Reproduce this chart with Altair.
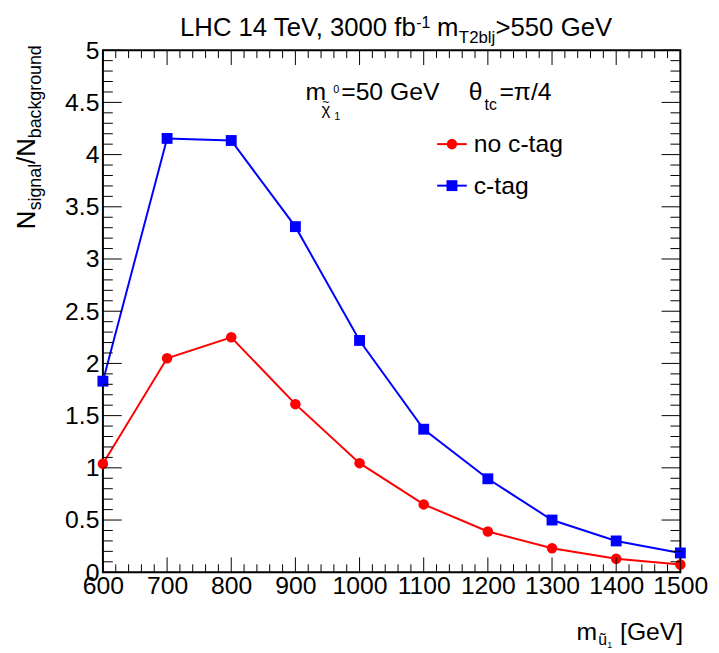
import altair as alt
import pandas as pd

# ---- data ----
mass = [600, 700, 800, 900, 1000, 1100, 1200, 1300, 1400, 1500]
no_ctag = [1.04, 2.05, 2.25, 1.61, 1.045, 0.65, 0.39, 0.23, 0.13, 0.075]
ctag = [1.83, 4.155, 4.135, 3.31, 2.22, 1.37, 0.895, 0.50, 0.30, 0.185]
series_names = ["no c-tag", "c-tag"]
series_colors = ["#ff0000", "#0000ff"]
series_shapes = ["circle", "square"]

x_major = list(range(600, 1501, 100))
x_minor = [v for v in range(600, 1501, 20) if v % 100]
y_major = [i * 0.5 for i in range(11)]
y_minor = [round(i * 0.1, 1) for i in range(51) if i % 5]

FONT = "Liberation Sans"
W, H = 584, 528
OX, OY = 104, 47  # page position of plot origin

df = pd.DataFrame({
    "m": mass * 2,
    "r": no_ctag + ctag,
    "s": [series_names[0]] * len(mass) + [series_names[1]] * len(mass),
})

xs = alt.Scale(domain=[600, 1500], nice=False, zero=False)
ys = alt.Scale(domain=[0, 5], nice=False, zero=False)
cs = alt.Scale(domain=series_names, range=series_colors)
ss = alt.Scale(domain=series_names, range=series_shapes)

axX = alt.Axis(values=x_major, format="d", title=None, ticks=False, domain=False, grid=False,
               labelFont=FONT, labelFontSize=25, labelColor="black", labelPadding=2,
               labelOverlap=False, labelFlush=False)
axY = alt.Axis(values=y_major, format="~g", title=None, ticks=False, domain=False, grid=False,
               labelFont=FONT, labelFontSize=25, labelColor="black", labelPadding=4,
               labelOverlap=False, labelFlush=False, labelBaseline="middle")


def X(f):
    return alt.X(f, scale=xs, axis=axX)


def Y(f):
    return alt.Y(f, scale=ys, axis=axY)


base = alt.Chart(df)
lines = base.mark_line(strokeWidth=2).encode(
    x=X("m:Q"), y=Y("r:Q"),
    color=alt.Color("s:N", scale=cs, legend=None),
    detail="s:N",
)
points = base.mark_point(filled=True, opacity=1).encode(
    x=X("m:Q"), y=Y("r:Q"),
    color=alt.Color("s:N", scale=cs, legend=None),
    shape=alt.Shape("s:N", scale=ss, legend=None),
    size=alt.condition("datum.s == 'no c-tag'", alt.value(113), alt.value(121)),
)


def xticks(vals, length):
    d = alt.Chart(pd.DataFrame({"m": vals}))
    bottom = d.mark_rule(color="black", strokeWidth=1).encode(
        x=X("m:Q"), y=alt.value(H), y2=alt.value(H - length))
    top = d.mark_rule(color="black", strokeWidth=1).encode(
        x=X("m:Q"), y=alt.value(0), y2=alt.value(length))
    return [bottom, top]


def yticks(vals, length):
    d = alt.Chart(pd.DataFrame({"r": vals}))
    left = d.mark_rule(color="black", strokeWidth=1).encode(
        y=Y("r:Q"), x=alt.value(0), x2=alt.value(length))
    right = d.mark_rule(color="black", strokeWidth=1).encode(
        y=Y("r:Q"), x=alt.value(W), x2=alt.value(W - length))
    return [left, right]


one = pd.DataFrame({"a": [0]})


def txt(s, x, y, size, angle=0, align="left", baseline="alphabetic"):
    return alt.Chart(one).mark_text(
        text=s, font=FONT, fontSize=size, color="black", align=align,
        baseline=baseline, angle=angle).encode(x=alt.value(x - OX), y=alt.value(y - OY))


texts = [
    # title
    txt("LHC 14 TeV, 3000 fb", 182, 33, 26),
    txt("-1", 421, 25, 16),
    txt("m", 442, 33, 26),
    txt("T2blj", 464, 40, 17),
    txt(">550", 501, 33, 26),
    txt("GeV", 567, 33, 26),
    # annotation
    txt("m", 309, 97, 25),
    txt("χ", 325, 113, 17),
    txt("~", 326, 103, 12),
    txt("0", 337, 90, 11),
    txt("1", 338, 118, 11),
    txt("=50 GeV", 345, 97, 25),
    txt("θ", 474, 97, 25),
    txt("tc", 490, 107, 16),
    txt("=π/4", 505, 97, 25),
    # y title
    txt("N", 35, 228, 26, angle=270),
    txt("signal", 41, 209, 18, angle=270),
    txt("/N", 35, 162, 26, angle=270),
    txt("background", 41, 136, 18, angle=270),
    # x title
    txt("m", 583, 644, 25),
    txt("ũ", 605, 649, 16),
    txt("1", 614, 652, 9),
    txt("[GeV]", 627, 644, 25),
    # legend text
    txt("no c-tag", 479, 142, 25, baseline="middle"),
    txt("c-tag", 479, 184, 25, baseline="middle"),
]

legend = []
for name, col, shp, ly, sz in [("no c-tag", series_colors[0], "circle", 142, 113),
                               ("c-tag", series_colors[1], "square", 184, 121)]:
    legend.append(alt.Chart(one).mark_rule(color=col, strokeWidth=2).encode(
        x=alt.value(442 - OX), x2=alt.value(472 - OX), y=alt.value(ly - OY)))
    legend.append(alt.Chart(one).mark_point(filled=True, opacity=1, color=col, shape=shp, size=sz).encode(
        x=alt.value(457 - OX), y=alt.value(ly - OY)))

layers = [lines, points]
layers += xticks(x_major, 15) + xticks(x_minor, 8)
layers += yticks(y_major, 19) + yticks(y_minor, 10)
layers += legend + texts

chart = alt.layer(*layers).properties(
    width=W, height=H,
    autosize=alt.AutoSizeParams(type="none"),
    padding={"left": 96, "top": 39, "right": 31, "bottom": 78},
    background="white",
).configure_view(stroke="black", strokeWidth=2)

chart.save("out.html", embed_options={"renderer": "svg", "actions": False})
